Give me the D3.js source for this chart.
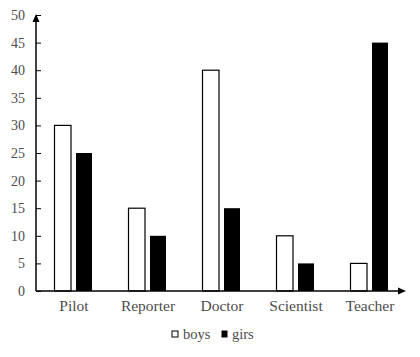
<!DOCTYPE html>
<html>
<head>
<meta charset="utf-8">
<script src="https://cdn.jsdelivr.net/npm/d3@7"></script>
<style>
  body { margin: 0; background: #fff; }
  svg text { font-family: "Liberation Serif", "DejaVu Serif", serif; fill: #4d4d4d; }
</style>
</head>
<body>
<svg width="420" height="357"></svg>
<script>
'use strict';
var categories = ['Pilot', 'Reporter', 'Doctor', 'Scientist', 'Teacher'];
var boys = [30, 15, 40, 10, 5];
var girls = [25, 10, 15, 5, 45];
var yTicks = [0, 5, 10, 15, 20, 25, 30, 35, 40, 45, 50];

var svg = d3.select('svg');
var x = d3.scaleBand().domain(categories).range([36, 406]);
var y = d3.scaleLinear().domain([0, 50]).range([291, 15]);

// y tick marks and labels
var yAxis = svg.append('g').attr('transform', 'translate(36,0)')
  .call(d3.axisRight(y).tickValues(yTicks).tickSize(5).tickFormat(''));
yAxis.select('.domain').remove();
yAxis.selectAll('.tick line').attr('stroke', '#000');

svg.append('g').selectAll('text').data(yTicks).enter().append('text')
  .attr('x', 25).attr('y', d => y(d)).attr('dy', '0.35em')
  .attr('text-anchor', 'end').attr('font-size', 14)
  .text(d => d);

// bars
var bw = 16.5;
var gb = svg.append('g');
gb.selectAll('rect.boys').data(boys).enter().append('rect')
  .attr('class', 'boys')
  .attr('x', (d, i) => x(categories[i]) + x.bandwidth() / 2 - 18.5)
  .attr('y', d => y(d)).attr('width', bw).attr('height', d => y(0) - y(d))
  .attr('fill', '#fff').attr('stroke', '#000').attr('stroke-width', 1.2);
gb.selectAll('rect.girls').data(girls).enter().append('rect')
  .attr('class', 'girls')
  .attr('x', (d, i) => x(categories[i]) + x.bandwidth() / 2 + 3)
  .attr('y', d => y(d)).attr('width', bw - 0.5).attr('height', d => y(0) - y(d))
  .attr('fill', '#000');

// axes lines with arrows
svg.append('line').attr('x1', 36).attr('y1', y(0)).attr('x2', 36).attr('y2', 20)
  .attr('stroke', '#000').attr('stroke-width', 1.5);
svg.append('path').attr('d', 'M36,14 L32.5,22 L39.5,22 Z').attr('fill', '#000');
svg.append('line').attr('x1', 36).attr('y1', y(0)).attr('x2', 400).attr('y2', y(0))
  .attr('stroke', '#000').attr('stroke-width', 1.5);
svg.append('path').attr('d', `M406,${y(0)} L398,${y(0) - 3.5} L398,${y(0) + 3.5} Z`).attr('fill', '#000');

// category labels
svg.append('g').selectAll('text').data(categories).enter().append('text')
  .attr('x', d => x(d) + x.bandwidth() / 2 + 1).attr('y', 310.5)
  .attr('text-anchor', 'middle').attr('font-size', 15.5)
  .text(d => d);

// legend
var lg = svg.append('g');
lg.append('rect').attr('x', 172).attr('y', 331).attr('width', 6).attr('height', 6)
  .attr('fill', '#fff').attr('stroke', '#000').attr('stroke-width', 1);
lg.append('text').attr('x', 183).attr('y', 339).attr('font-size', 14.5).text('boys');
lg.append('rect').attr('x', 221.5).attr('y', 330.5).attr('width', 6).attr('height', 7)
  .attr('fill', '#000');
lg.append('text').attr('x', 232).attr('y', 339).attr('font-size', 14.5).text('girs');
</script>
</body>
</html>
